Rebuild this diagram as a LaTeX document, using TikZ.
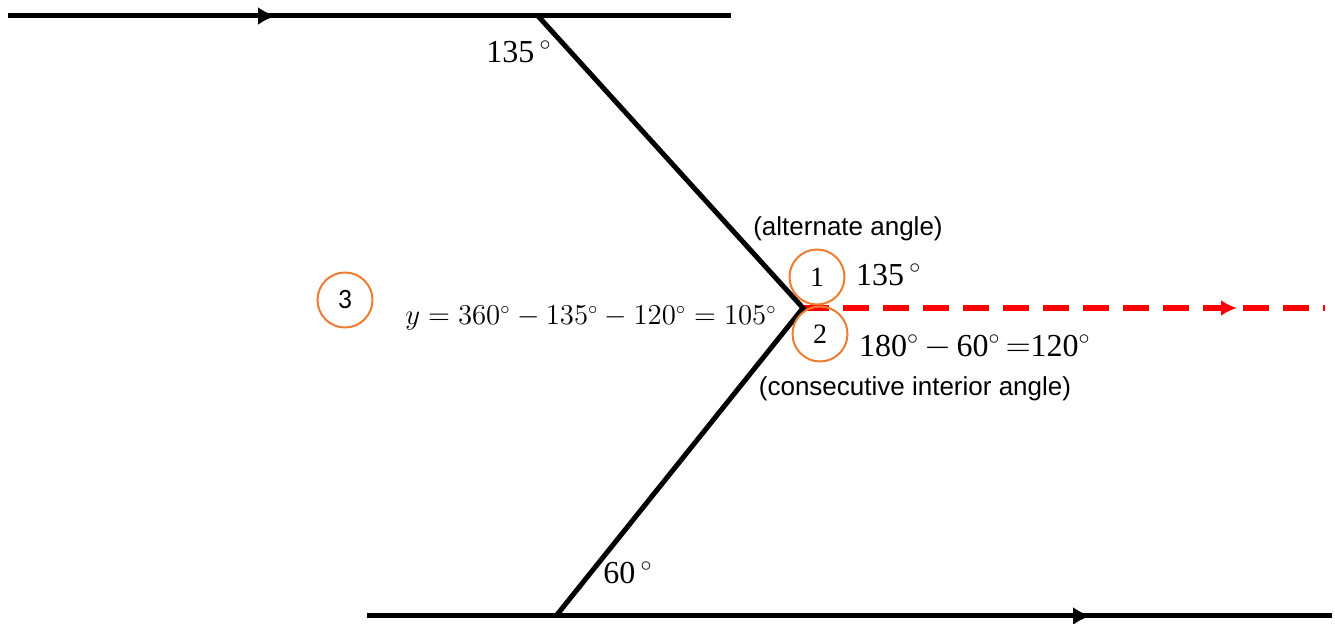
\documentclass[tikz,border=0pt]{standalone}
\usepackage{fontspec}
\setmainfont{Liberation Serif}
\newfontfamily\arialfont{Liberation Sans}
\newfontfamily\calibrifont{Carlito}
\usetikzlibrary{arrows.meta, positioning}
\definecolor{markorange}{RGB}{237,125,49}

\begin{document}
\begin{tikzpicture}[
            x=0.5pt, y=-0.5pt,
            >={Latex[length=9pt,width=9pt]},
            edge/.style={
                line width=2.5pt
            },
            ray/.style={
                red,
                line width=3pt,
                dash pattern=on 13pt off 7pt,
                >={Latex[length=8pt,width=8pt]}
            },
            anglemark/.style={
                draw=markorange,
                circle,
                line width=1pt,
                minimum size=27.5pt,
                inner sep=0pt,
                font=\fontsize{14}{14}\selectfont
            },
            angletext/.style={
                font=\fontsize{16}{16}\selectfont
            },
            note/.style={
                font=\arialfont\fontsize{13}{13}\selectfont
            }
        ]
            \useasboundingbox (0,0) rectangle (1335,624);

            % Pontos das retas
            \coordinate (topL) at (8,16);
            \coordinate (topArrow) at (276,16);
            \coordinate (topV) at (538,16);
            \coordinate (topR) at (731,16);
            \coordinate (midV) at (803,308);
            \coordinate (botL) at (367,616);
            \coordinate (botV) at (556,616);
            \coordinate (botArrow) at (1091,616);
            \coordinate (botR) at (1332,616);
            \coordinate (rayArrow) at (1237,308);
            \coordinate (rayEnd) at (1325,308);

            % Reta auxiliar tracejada
            \draw [ray] (midV) -- (rayEnd);
            \draw [ray, ->] (midV) -- (rayArrow);

            % Retas paralelas
            \draw [edge] (topL) -- (topR);
            \draw [edge, ->] (topL) -- (topArrow);
            \draw [edge] (botL) -- (botR);
            \draw [edge, ->] (botL) -- (botArrow);

            % Transversal quebrada
            \draw [edge, line join=miter] (topV) -- (midV) -- (botV);

            % Angulos dados
            \node [angletext] (topAngle) at (519,52) {135\,$^{\circ}$};
            \node [angletext] (botAngle) at (628,573) {60\,$^{\circ}$};

            % Marcas dos angulos
            \node [anglemark] (markOne) at (817,277) {1};
            \node [anglemark] (markTwo) at (820,334) {2};
            \node [anglemark, font=\calibrifont\fontsize{14}{14}\selectfont] (markThree) at (345,300) {3};

            % Textos
            \node [note] (altNote) at (848,229) {(alternate angle)};
            \node [angletext, anchor=west] (angleOne) at (849,275) {135\,$^{\circ}$};
            \node [angletext, anchor=west] (angleTwo) at (852,347)
                {180$^{\circ}$\,$-$\,60$^{\circ}$\,$=$120$^{\circ}$};
            \node [note] (consNote) at (915,389) {(consecutive interior angle)};
            \node [font=\fontsize{13.5}{13.5}\selectfont] (result) at (591,318)
                {$y = 360^{\circ} - 135^{\circ} - 120^{\circ} = 105^{\circ}$};
        \end{tikzpicture}
\end{document}
